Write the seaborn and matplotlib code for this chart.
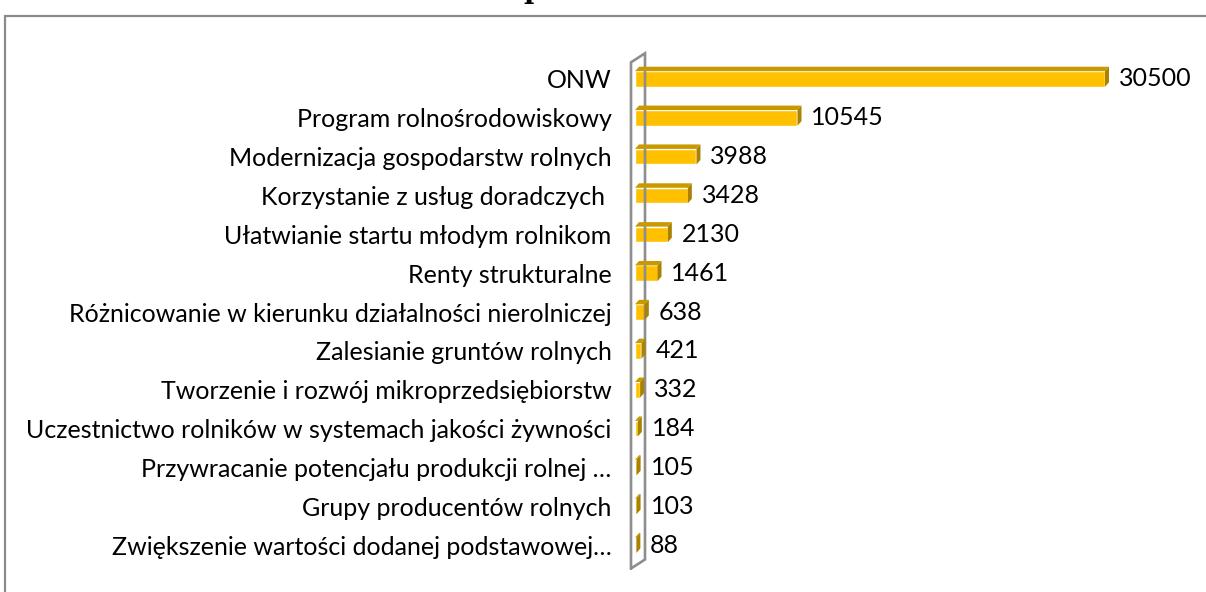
import numpy as np
import pandas as pd
import seaborn as sns
import matplotlib.pyplot as plt
from matplotlib.patches import Polygon, Rectangle

# ---- data ----
categories = [
    "ONW",
    "Program rolnośrodowiskowy",
    "Modernizacja gospodarstw rolnych",
    "Korzystanie z usług doradczych ",
    "Ułatwianie startu młodym rolnikom",
    "Renty strukturalne",
    "Różnicowanie w kierunku działalności nierolniczej",
    "Zalesianie gruntów rolnych",
    "Tworzenie i rozwój mikroprzedsiębiorstw",
    "Uczestnictwo rolników w systemach jakości żywności",
    "Przywracanie potencjału produkcji rolnej …",
    "Grupy producentów rolnych",
    "Zwiększenie wartości dodanej podstawowej…",
]
values = [30500, 10545, 3988, 3428, 2130, 1461, 638, 421, 332, 184, 105, 103, 88]

df = pd.DataFrame({"kategoria": categories, "wartosc": values})

sns.set_theme(style="white")
plt.rcParams["font.family"] = ["Lato", "DejaVu Sans"]

W, H = 1206, 592
fig = plt.figure(figsize=(W / 100, H / 100), dpi=100)

# axes placed in pixel terms: bars start at x=635
ax_left, ax_top, ax_bot = 635, 20, 592
ax = fig.add_axes([ax_left / W, 1 - ax_bot / H, (W - ax_left) / W, (ax_bot - ax_top) / H])

front = "#FFC000"
top_c = "#C99A00"
side_c = "#A98300"

sns.barplot(data=df, x="wartosc", y="kategoria", orient="h", color=front,
            width=0.4, saturation=1, ax=ax)

# scales: 30500 -> ~470 px, row pitch ~38.9 px
px_per_unit = 470 / 30500
xmax = (W - ax_left) / px_per_unit
pitch = 38.85
y0 = 79
ax.set_xlim(0, xmax)
ax.set_ylim((ax_bot - y0) / pitch, (ax_top - y0) / pitch)

# pseudo-3D faces on each bar
dx = 4 / px_per_unit
dy = 4.5 / pitch
for p in ax.patches:
    x0 = p.get_x()
    x1 = x0 + p.get_width()
    ya = p.get_y()
    yb = ya + p.get_height()
    ytop = min(ya, yb)
    ybot = max(ya, yb)
    ax.add_patch(Polygon([(x0, ytop), (x0 + dx, ytop - dy), (x1 + dx, ytop - dy), (x1, ytop)],
                         closed=True, facecolor=top_c, edgecolor="none", zorder=3))
    ax.add_patch(Polygon([(x1, ytop), (x1 + dx, ytop - dy), (x1 + dx, ybot - dy), (x1, ybot)],
                         closed=True, facecolor=side_c, edgecolor="none", zorder=3))

# value labels
ax.bar_label(ax.containers[0], labels=[str(v) for v in values], padding=10,
             fontsize=18, color="black")

# wall on the left (3D style frame)
n = len(categories)
wl = -4 / px_per_unit
wr = 10 / px_per_unit
wall_dy = 9 / pitch
yl_top, yl_bot = -0.43, n - 0.4
wall = [(wl, yl_bot), (wl, yl_top), (wr, yl_top - wall_dy), (wr, yl_bot - wall_dy), (wl, yl_bot)]
ax.plot([p[0] for p in wall], [p[1] for p in wall], color="#8E8E8E", lw=1.9,
        clip_on=False, zorder=1, solid_joinstyle="miter")

# axis styling
ax.set_xlabel("")
ax.set_ylabel("")
ax.set_xticks([])
for s in ax.spines.values():
    s.set_visible(False)
ax.tick_params(axis="y", length=0, pad=17, labelsize=18, labelcolor="black")
ax.patch.set_alpha(0)

# outer chart border (runs off the right and bottom edges)
fig.patches.append(Rectangle((4.5 / W, -0.1), 1.2, 1.1 - 15.5 / H, transform=fig.transFigure,
                             fill=False, edgecolor="#8A8A8A", lw=1.6, zorder=0))

# title cut off at the top of the image
fig.text(533 / W, 1 + 1.5 / H, "p", ha="center", va="baseline", fontsize=20,
         fontweight="bold", family="DejaVu Serif", color="black")

fig.savefig("out.png", dpi=100)
